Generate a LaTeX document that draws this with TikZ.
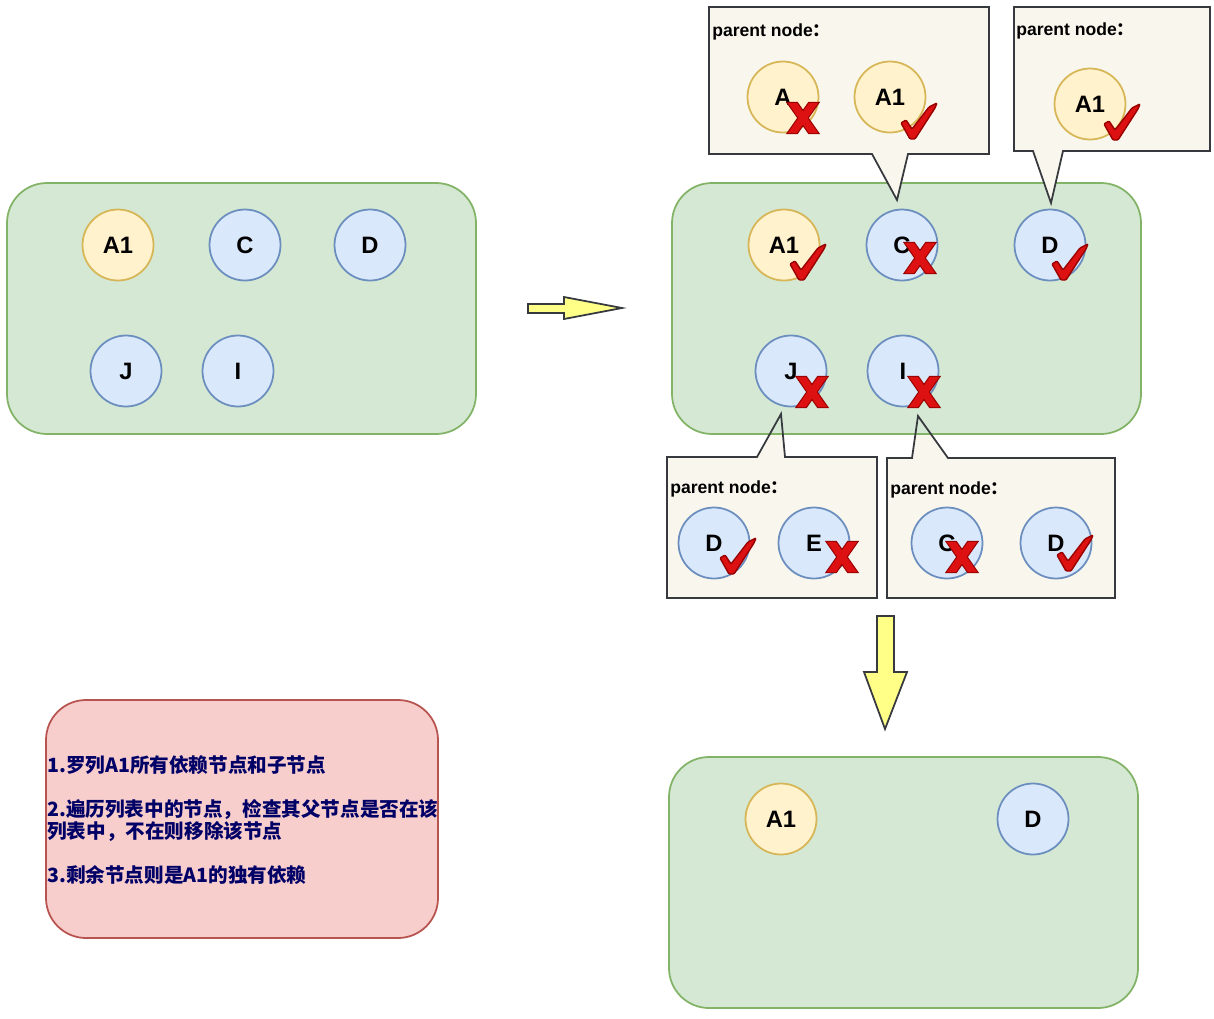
\documentclass[tikz,border=0pt]{standalone}
\usepackage{fontspec}
\setmainfont{Liberation Sans}
\newfontfamily\cjk{Noto Sans CJK SC}

\definecolor{grnfill}{HTML}{D5E8D4}
\definecolor{grnline}{HTML}{82B366}
\definecolor{yelfill}{HTML}{FFF2CC}
\definecolor{yelline}{HTML}{D6B656}
\definecolor{blufill}{HTML}{DAE8FC}
\definecolor{bluline}{HTML}{6C8EBF}
\definecolor{tipfill}{HTML}{F9F7ED}
\definecolor{tipline}{HTML}{36393D}
\definecolor{arrfill}{HTML}{FFFF88}
\definecolor{notefill}{HTML}{F8CECC}
\definecolor{noteline}{HTML}{B85450}
\definecolor{notetext}{HTML}{000066}
\definecolor{mkred}{HTML}{DD1111}
\definecolor{mkdark}{HTML}{990000}

\tikzset{
  yel/.style={circle,draw=yelline,fill=yelfill,line width=1pt,minimum size=1.42cm,inner sep=0pt,
    font=\fontsize{13.5}{16}\selectfont\bfseries},
  blu/.style={yel,draw=bluline,fill=blufill},
  grp/.style={draw=grnline,fill=grnfill,line width=1pt,rounded corners=0.8cm},
  tipbox/.style={draw=tipline,fill=tipfill,line width=1pt},
  arr/.style={draw=tipline,fill=arrfill,line width=1pt},
  ptxt/.style={anchor=west,inner sep=0pt,font=\fontsize{10}{12}\selectfont\bfseries},
  xmark/.pic={
    \filldraw[mkdark,line width=1.3pt] (-15,-15) -- (-6,-15) -- (15,15) -- (6,15) -- cycle
      (6,-15) -- (15,-15) -- (-6,15) -- (-15,15) -- cycle;
    \fill[mkred] (-15,-15) -- (-6,-15) -- (15,15) -- (6,15) -- cycle
      (6,-15) -- (15,-15) -- (-6,15) -- (-15,15) -- cycle;
  },
  okmark/.pic={
    \filldraw[fill=mkred,draw=mkdark,line width=0.8pt,rounded corners=0.6pt]
      (-18,2) -- (-13,-1) -- (-7,8) -- (10,-14) -- (18,-18) -- (16,-13) -- (-4,18) -- (-9,18) -- cycle;
  }
}

\begin{document}
\begin{tikzpicture}[x=0.02cm,y=-0.02cm]
\useasboundingbox (0,0) rectangle (1214,1018);

% left: all nodes
\draw[grp] (7,183) rectangle (476,434);
\node[yel] (a1L) at (118,245) {A1};
\node[blu] (cL) at (245,245) {C};
\node[blu] (dL) at (370,245) {D};
\node[blu] (jL) at (126,371) {J};
\node[blu] (iL) at (238,371) {I};

\draw[arr] (528,304) -- (564,304) -- (564,297) -- (622,308) -- (564,319) -- (564,313) -- (528,313) -- cycle;

% bottom callouts (fill under the group)
\fill[tipfill] (667,457) -- (757,457) -- (781,414) -- (785,457) -- (877,457) -- (877,598) -- (667,598) -- cycle;
\fill[tipfill] (887,458) -- (912,458) -- (918,416) -- (948,458) -- (1115,458) -- (1115,598) -- (887,598) -- cycle;

% middle: check parents
\draw[grp] (672,183) rectangle (1141,434);

\draw[tipbox,fill=none] (667,457) -- (757,457) -- (781,414) -- (785,457) -- (877,457) -- (877,598) -- (667,598) -- cycle;
\draw[tipbox,fill=none] (887,458) -- (912,458) -- (918,416) -- (948,458) -- (1115,458) -- (1115,598) -- (887,598) -- cycle;

\node[yel] (a1M) at (784,245) {A1};
\node[blu] (cM) at (902,245) {C};
\node[blu] (dM) at (1050,245) {D};
\node[blu] (jM) at (791,371) {J};
\node[blu] (iM) at (903,371) {I};
\path (a1M) ++(24,17) pic {okmark};
\path (cM) ++(18,13) pic {xmark};
\path (dM) ++(20,17) pic {okmark};
\path (jM) ++(21,21) pic {xmark};
\path (iM) ++(21,21) pic {xmark};

% top callouts
\draw[tipbox] (709,7) -- (989,7) -- (989,154) -- (908,154) -- (897,200) -- (872,154) -- (709,154) -- cycle;
\node[ptxt] (p1) at (712,32) {parent node{\cjk ：}};
\node[yel] (pA) at (783,97) {A};
\node[yel] (pA1) at (890,97) {A1};
\path (pA) ++(20,21) pic {xmark};
\path (pA1) ++(29,24) pic {okmark};

\draw[tipbox] (1014,7) -- (1210,7) -- (1210,151) -- (1063,151) -- (1051,203) -- (1033,151) -- (1014,151) -- cycle;
\node[ptxt] (p2) at (1016,31) {parent node{\cjk ：}};
\node[yel] (qA1) at (1090,104) {A1};
\path (qA1) ++(32,18) pic {okmark};

% bottom callout contents
\node[ptxt] (p3) at (670,489) {parent node{\cjk ：}};
\node[blu] (jD) at (714,543) {D};
\node[blu] (jE) at (814,543) {E};
\path (jD) ++(24,13) pic {okmark};
\path (jE) ++(28,14) pic {xmark};

\node[ptxt] (p4) at (890,490) {parent node{\cjk ：}};
\node[blu] (iC) at (947,543) {C};
\node[blu] (iD) at (1056,543) {D};
\path (iC) ++(15,14) pic {xmark};
\path (iD) ++(19,10) pic {okmark};

\draw[arr] (877,616) -- (894,616) -- (894,672) -- (907,672) -- (885,729) -- (864,672) -- (877,672) -- cycle;

% result
\draw[grp] (669,757) rectangle (1138,1008);
\node[yel] (a1R) at (781,819) {A1};
\node[blu] (dR) at (1033,819) {D};

% note
\draw[draw=noteline,fill=notefill,line width=1pt,rounded corners=0.8cm] (46,700) rectangle (438,938);
\node[anchor=west,inner sep=0pt,align=left,text=notetext,font=\cjk\bfseries\fontsize{11.15}{12.5}\selectfont] (steps) at (47,820)
  {1.罗列A1所有依赖节点和子节点\\[12.5pt]
   2.遍历列表中的节点，检查其父节点是否在该\\
   列表中，不在则移除该节点\\[12.5pt]
   3.剩余节点则是A1的独有依赖};
\end{tikzpicture}
\end{document}
